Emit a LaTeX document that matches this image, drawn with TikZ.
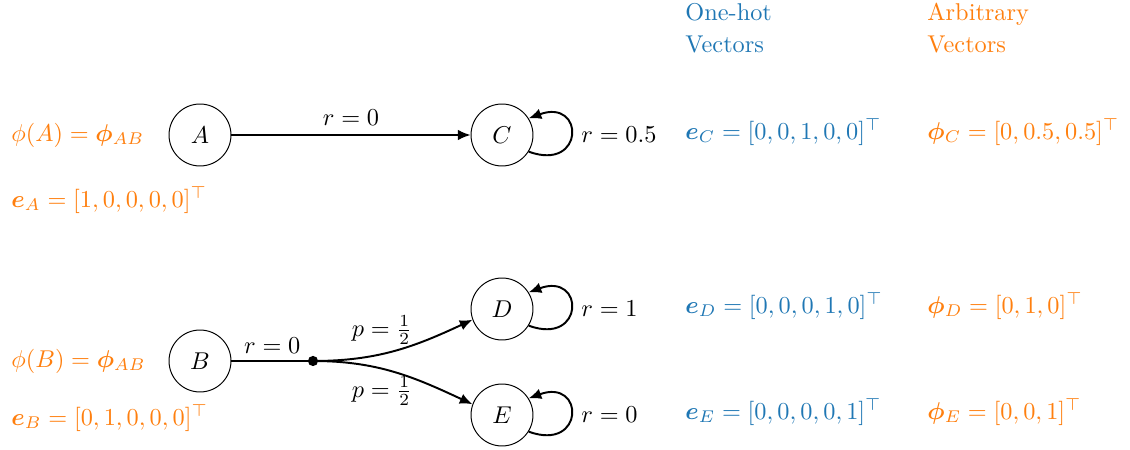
\documentclass[tikz,border=0pt]{standalone}
\usepackage{amsmath}
\usepackage{bm}
\usetikzlibrary{arrows.meta}
\definecolor{tblue}{HTML}{1F77B4}
\definecolor{torange}{HTML}{FF7F0E}
\begin{document}
\begin{tikzpicture}[x=0.4115pt,y=-0.4115pt,
  state/.style={circle,draw,thin,minimum size=25.5pt,inner sep=0pt},
  conn/.style={thick,-{Latex[length=5.2pt,width=4.4pt]}},
  plain/.style={thick},
  lbl/.style={inner sep=1pt},
  ov/.style={text=torange,anchor=west,inner sep=0pt},
  bv/.style={text=tblue,anchor=west,inner sep=0pt},
  hdr/.style={anchor=north west,align=left,inner sep=0pt}]
\useasboundingbox (0,0) rectangle (1130,450);
% states
\node[state] (A) at (200,135) {$A$};
\node[state] (C) at (502,135) {$C$};
\node[state] (B) at (200,361) {$B$};
\node[state] (D) at (502,309) {$D$};
\node[state] (E) at (502,415) {$E$};
\fill (313,361) circle (2.1pt);
\coordinate (dot) at (313,361);
% edges
\draw[conn] (A) -- node[lbl,above=2.5pt] {$r=0$} (C);
\draw[plain] (B) -- node[lbl,above=1.5pt] {$r=0$} (dot);
\draw[conn] (dot) to[out=0,in=205] (D.200);
\draw[conn] (dot) to[out=0,in=155] (E.160);
\node[lbl] (p1) at (382,330) {$p=\frac{1}{2}$};
\node[lbl] (p2) at (382,391) {$p=\frac{1}{2}$};
% loops
\draw[conn] (C.-32) to[out=-20,in=20,looseness=4.6] (C.32);
\draw[conn] (D.-32) to[out=-20,in=20,looseness=4.6] (D.32);
\draw[conn] (E.-32) to[out=-20,in=20,looseness=4.6] (E.32);
\node[anchor=west,inner sep=0pt] (rc) at (581,135) {$r=0.5$};
\node[anchor=west,inner sep=0pt] (rd) at (581,309) {$r=1$};
\node[anchor=west,inner sep=0pt] (re) at (581,415) {$r=0$};
% left labels
\node[ov] (phiA) at (11,135) {$\phi(A)=\bm{\phi}_{AB}$};
\node[ov] (eA) at (11,200) {$\bm{e}_A=[1,0,0,0,0]^\top$};
\node[ov] (phiB) at (11,361) {$\phi(B)=\bm{\phi}_{AB}$};
\node[ov] (eB) at (11,418) {$\bm{e}_B=[0,1,0,0,0]^\top$};
% headers
\node[hdr,text=tblue] (h1) at (685,3) {One-hot\\[1pt]Vectors};
\node[hdr,text=torange] (h2) at (927,3) {Arbitrary\\[1pt]Vectors};
% right vectors
\node[bv] (eC) at (685,132) {$\bm{e}_C=[0,0,1,0,0]^\top$};
\node[bv] (eD) at (685,306) {$\bm{e}_D=[0,0,0,1,0]^\top$};
\node[bv] (eE) at (685,412) {$\bm{e}_E=[0,0,0,0,1]^\top$};
\node[ov] (pC) at (927,132) {$\bm{\phi}_C=[0,0.5,0.5]^\top$};
\node[ov] (pD) at (927,306) {$\bm{\phi}_D=[0,1,0]^\top$};
\node[ov] (pE) at (927,412) {$\bm{\phi}_E=[0,0,1]^\top$};
\end{tikzpicture}
\end{document}
